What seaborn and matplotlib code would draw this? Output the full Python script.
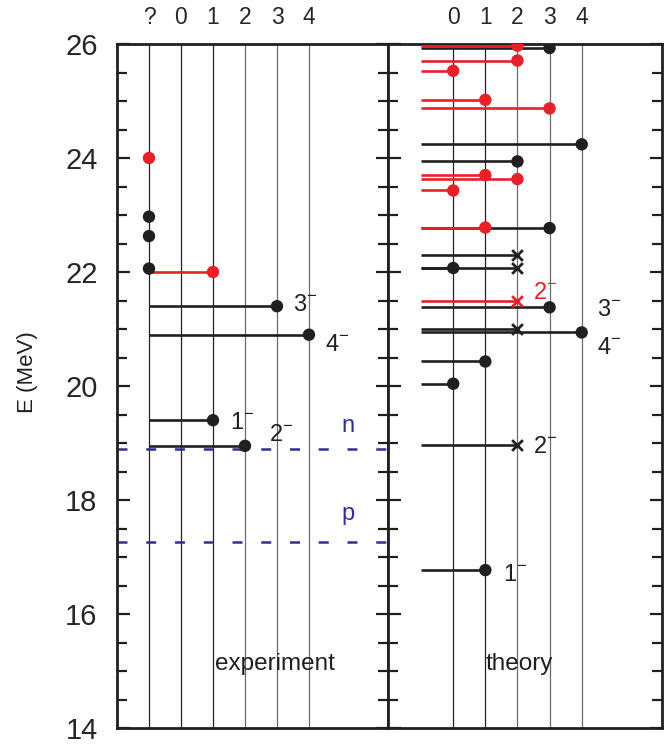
import matplotlib
matplotlib.use("Agg")
import matplotlib.pyplot as plt
from matplotlib.ticker import MultipleLocator
import seaborn as sns
import pandas as pd

sns.set_style("ticks")
plt.rcParams['font.family'] = ['Liberation Sans', 'DejaVu Sans']
plt.rcParams['mathtext.fontset'] = 'custom'
plt.rcParams['mathtext.rm'] = 'Liberation Sans'
plt.rcParams['mathtext.it'] = 'Liberation Sans:italic'
plt.rcParams['mathtext.bf'] = 'Liberation Sans:bold'

RED = '#e8202a'
BLK = '#231f20'
NAVY = '#2e3192'

# ---- data ----
exp_cols = [-1, 0, 1, 2, 3, 4]
exp_col_labels = ['?', '0', '1', '2', '3', '4']
th_cols = [0, 1, 2, 3, 4]
th_col_labels = ['0', '1', '2', '3', '4']

# experiment levels (J = -1 means "?")
exp_E = [22.97, 22.63, 22.06, 21.40, 20.90, 19.40, 18.95, 24.0, 22.0]
exp_J = [-1, -1, -1, 3, 4, 1, 2, -1, 1]
exp_c = ['k', 'k', 'k', 'k', 'k', 'k', 'k', 'r', 'r']

# thresholds
thr_E = [18.89, 17.27]
thr_lab = ['n', 'p']

# theory levels
th_E = [25.93, 24.24, 23.94, 22.77, 22.30, 22.07, 22.07, 21.38, 21.00, 20.94,
        20.43, 20.04, 18.96, 16.77,
        25.97, 25.71, 25.53, 25.02, 24.87, 23.70, 23.63, 23.43, 22.78, 21.49]
th_J = [3, 4, 2, 3, 2, 2, 0, 3, 2, 4,
        1, 0, 2, 1,
        2, 2, 0, 1, 3, 1, 2, 0, 1, 2]
th_c = ['k'] * 14 + ['r'] * 10
th_m = ['o', 'o', 'o', 'o', 'x', 'x', 'o', 'o', 'x', 'o',
        'o', 'o', 'x', 'o',
        'o', 'o', 'o', 'o', 'o', 'o', 'o', 'o', 'o', 'x']

exp_df = pd.DataFrame({'E': exp_E, 'J': exp_J, 'c': exp_c})
th_df = pd.DataFrame({'E': th_E, 'J': th_J, 'c': th_c, 'm': th_m})

# labels: (text, x, y, colour)
exp_labels = [('3', 3.5, 21.42, 'k'), ('4', 4.5, 20.72, 'k'),
              ('1', 1.53, 19.35, 'k'), ('2', 2.75, 19.14, 'k')]
th_labels = [('2', 2.47, 21.63, 'r'), ('3', 4.49, 21.33, 'k'),
             ('4', 4.49, 20.67, 'k'), ('2', 2.47, 18.93, 'k'),
             ('1', 1.55, 16.68, 'k')]

W, H = 667, 744
fig = plt.figure(figsize=(W / 100, H / 100), dpi=100)
axL = fig.add_axes([117 / W, 16 / H, 271 / W, 684 / H])
axR = fig.add_axes([388 / W, 16 / H, 274 / W, 684 / H], sharey=axL)

cmap = {'k': BLK, 'r': RED}


def style_axis(ax, cols, labels, xlim):
    ax.set_xlim(*xlim)
    ax.set_ylim(14, 26)
    for i, xc in enumerate(cols):
        col = '#222222' if xc <= 1 else '#6d6d6d'
        ax.axvline(xc, color=col, lw=0.9, zorder=1)
    ax.xaxis.tick_top()
    ax.set_xticks(cols)
    ax.set_xticklabels(labels, fontsize=16.5)
    ax.tick_params(axis='x', length=0, pad=11)
    ax.yaxis.set_major_locator(MultipleLocator(2))
    ax.yaxis.set_minor_locator(MultipleLocator(0.5))
    ax.tick_params(axis='y', which='both', direction='in', left=True, right=True,
                   width=1.6, color=BLK)
    ax.tick_params(axis='y', which='major', length=9)
    ax.tick_params(axis='y', which='minor', length=7)
    for s in ax.spines.values():
        s.set_linewidth(2.0)
        s.set_color(BLK)
    ax.set_xlabel('')
    ax.set_ylabel('')


style_axis(axL, exp_cols, exp_col_labels, (-2.0, 6.47))
style_axis(axR, th_cols, th_col_labels, (-2.03, 6.5))

axL.tick_params(axis='y', which='major', labelsize=21, pad=14)
axR.tick_params(axis='y', labelleft=False)

# experiment
for c in ['k', 'r']:
    sub = exp_df[exp_df.c == c]
    axL.hlines(sub.E, -1, sub.J, color=cmap[c], lw=1.9, zorder=3)
    sns.scatterplot(data=sub, x='J', y='E', ax=axL, color=cmap[c], s=80,
                    edgecolor='none', zorder=4, legend=False)

for e, lab in zip(thr_E, thr_lab):
    axL.axhline(e, color=NAVY, lw=1.8, dashes=(4.0, 7.5), zorder=2)
axL.text(5.22, 19.19, 'n', color=NAVY, fontsize=17, ha='center', va='baseline')
axL.text(5.22, 17.65, 'p', color=NAVY, fontsize=17, ha='center', va='baseline')

for t, x, y, c in exp_labels:
    axL.text(x, y, r'$\mathrm{' + t + r'}^{-}$', color=cmap[c], fontsize=17,
             ha='left', va='center', zorder=5)
axL.text(2.94, 15.02, 'experiment', fontsize=17.5, ha='center', va='baseline', color=BLK)

# theory
for c in ['k', 'r']:
    sub = th_df[th_df.c == c]
    axR.hlines(sub.E, -1, sub.J, color=cmap[c], lw=1.9, zorder=3 if c == 'k' else 5)
    dots = sub[sub.m == 'o']
    crosses = sub[sub.m == 'x']
    sns.scatterplot(data=dots, x='J', y='E', ax=axR, color=cmap[c], s=80,
                    edgecolor='none', zorder=4 if c == 'k' else 6, legend=False)
    sns.scatterplot(data=crosses, x='J', y='E', ax=axR, color=cmap[c], s=60,
                    marker='x', linewidth=2.0, zorder=4 if c == 'k' else 6, legend=False)

for t, x, y, c in th_labels:
    axR.text(x, y, r'$\mathrm{' + t + r'}^{-}$', color=cmap[c], fontsize=17,
             ha='left', va='center', zorder=7)
axR.text(2.07, 15.02, 'theory', fontsize=17.5, ha='center', va='baseline', color=BLK)

axL.set_xlabel('')
axL.set_ylabel('')
axR.set_xlabel('')
axR.set_ylabel('')
fig.text(28 / W, 1 - 372 / H, 'E (MeV)', rotation=90, fontsize=16,
         ha='center', va='center', color=BLK)

fig.savefig('out.png', dpi=100)
